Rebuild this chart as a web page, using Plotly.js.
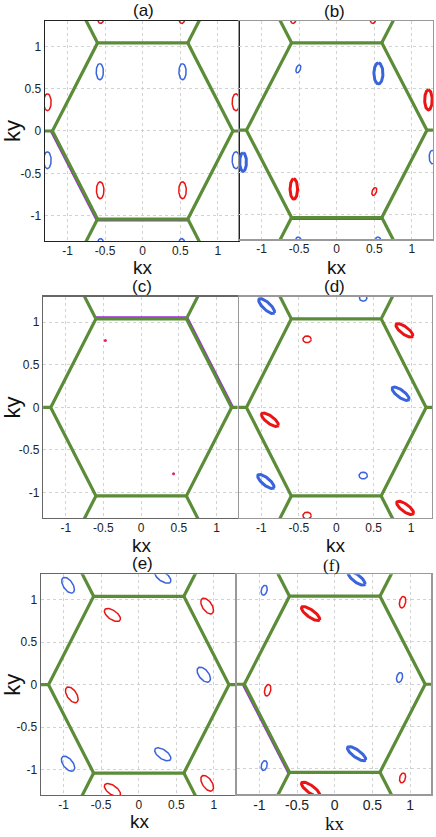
<!DOCTYPE html>
<html>
<head>
<meta charset="utf-8">
<script src="https://cdn.plot.ly/plotly-3.0.1.min.js"></script>
<style>body{margin:0;background:#fff}</style>
</head>
<body>
<div id="c1" style="width:436px;height:837px"></div>
<script>
var tickVals = [-1, -0.5, 0, 0.5, 1];
var tickText = ['-1', '-0.5', '0', '0.5', '1'];
var panelNames = ['(a)', '(b)', '(c)', '(d)', '(e)', '(f)'];

// corners of the first Brillouin zone
var zoneKx = [1.2, 0.6, -0.6, -1.2, -0.6, 0.6];
var zoneKy = [0, 1.04, 1.04, 0, -1.04, -1.04];

// pockets: kx, ky, semi axis a, semi axis b, tilt of a (deg), band, contours
var pocketsA = [
  [-0.57, 0.70, 0.095, 0.048, 90, 'b', 1], [0.53, 0.70, 0.095, 0.048, 90, 'b', 1],
  [-0.565, -0.70, 0.1, 0.05, 90, 'r', 1], [0.53, -0.70, 0.1, 0.05, 90, 'r', 1],
  [-1.267, 0.34, 0.1, 0.05, 90, 'r', 1], [1.24, 0.34, 0.1, 0.05, 90, 'r', 1],
  [-1.267, -0.345, 0.1, 0.05, 90, 'b', 1], [1.24, -0.345, 0.1, 0.05, 90, 'b', 1],
  [-0.56, 1.37, 0.1, 0.05, 90, 'r', 1], [0.52, 1.37, 0.1, 0.05, 90, 'r', 1],
  [-0.56, -1.37, 0.1, 0.05, 90, 'b', 1], [0.52, -1.37, 0.1, 0.05, 90, 'b', 1]
];
var pocketsB = [
  [-0.51, 0.73, 0.05, 0.028, 65, 'b', 1], [0.555, 0.675, 0.125, 0.06, 90, 'b', 2],
  [1.22, 0.36, 0.12, 0.05, 90, 'r', 2], [1.27, -0.32, 0.08, 0.04, 90, 'b', 1],
  [-0.57, -0.70, 0.12, 0.05, 90, 'r', 2], [0.50, -0.73, 0.05, 0.028, 65, 'r', 1],
  [-1.245, -0.38, 0.11, 0.045, 90, 'b', 2],
  [-0.58, 1.37, 0.1, 0.05, 90, 'r', 1], [0.48, 1.37, 0.1, 0.05, 90, 'r', 1],
  [-0.51, -1.37, 0.1, 0.05, 90, 'b', 1], [0.55, -1.37, 0.1, 0.05, 90, 'b', 1]
];
var dotsC = [[-0.475, 0.785], [0.43, -0.78]];
var pocketsD = [
  [-0.93, 1.19, 0.13, 0.045, -38, 'b', 2], [0.36, 1.285, 0.05, 0.037, 0, 'b', 1],
  [-0.39, 0.80, 0.055, 0.04, 0, 'r', 1], [0.91, 0.905, 0.13, 0.045, -32, 'r', 2],
  [0.86, 0.16, 0.13, 0.045, -32, 'b', 2], [-0.886, -0.145, 0.13, 0.045, -32, 'r', 2],
  [-0.94, -0.87, 0.13, 0.045, -35, 'b', 2], [0.36, -0.80, 0.055, 0.04, 0, 'b', 1],
  [0.92, -1.18, 0.13, 0.045, -32, 'r', 2], [-0.39, -1.27, 0.055, 0.04, 0, 'r', 1]
];
var pocketsE = [
  [-0.94, 1.17, 0.11, 0.06, -50, 'b', 1], [0.32, 1.27, 0.12, 0.055, -30, 'b', 1],
  [-0.35, 0.82, 0.12, 0.055, -30, 'r', 1], [0.91, 0.925, 0.11, 0.06, -50, 'r', 1],
  [0.865, 0.118, 0.11, 0.06, -45, 'b', 1], [-0.89, -0.12, 0.11, 0.06, -50, 'r', 1],
  [-0.94, -0.93, 0.11, 0.06, -45, 'b', 1], [0.32, -0.82, 0.12, 0.055, -30, 'b', 1],
  [0.91, -1.16, 0.11, 0.06, -50, 'r', 1], [-0.35, -1.24, 0.12, 0.055, -30, 'r', 1]
];
var pocketsF = [
  [-0.936, 1.11, 0.06, 0.038, 72, 'b', 1], [0.29, 1.25, 0.13, 0.045, -33, 'b', 2],
  [-0.32, 0.835, 0.14, 0.045, -32, 'r', 2], [0.90, 0.97, 0.07, 0.04, 75, 'r', 1],
  [0.86, 0.08, 0.06, 0.038, 72, 'b', 1], [-0.89, -0.07, 0.07, 0.04, 75, 'r', 1],
  [-0.936, -0.96, 0.06, 0.038, 72, 'b', 1], [0.29, -0.82, 0.14, 0.045, -32, 'b', 2],
  [0.90, -1.106, 0.06, 0.038, 72, 'r', 1], [-0.32, -1.24, 0.14, 0.045, -32, 'r', 2]
];
var pocketSets = [pocketsA, pocketsB, [], pocketsD, pocketsE, pocketsF];
// zone edges where the second (purple) band peeks out
var purpleEdges = [[3, 4], [4], [0, 1], [], [], [3]];

var green = '#5b8c37';
var bandColor = {r: '#ea1414', b: '#3a64dc'};
var sans = 'Liberation Sans, Arial, sans-serif';
var times = 'Liberation Serif, Times New Roman, serif';

var xDom = [[0.103, 0.548], [0.548, 0.993], [0.099, 0.545], [0.548, 0.991], [0.094, 0.539], [0.543, 0.989]];
var yDom = [[0.712, 0.975], [0.714, 0.975], [0.381, 0.6455], [0.381, 0.6455], [0.050, 0.314], [0.051, 0.314]];
var frameCol = ['#222', '#999', '#666', '#999', '#666', '#999'];
// panel letters and kx labels, paper coords
var titleXY = [[0.328, 0.988], [0.768, 0.986], [0.326, 0.6583], [0.768, 0.6583], [0.326, 0.3262], [0.761, 0.3240]];
var kxXY = [[0.328, 0.6810], [0.773, 0.6810], [0.326, 0.3485], [0.770, 0.3485], [0.321, 0.019], [0.768, 0.016]];

function ellipse(p) {
  var xs = [], ys = [];
  var t = p[4] * Math.PI / 180;
  for (var k = 0; k <= 72; k++) {
    var f = k / 72 * 2 * Math.PI;
    var u = p[2] * Math.cos(f), v = p[3] * Math.sin(f);
    xs.push(p[0] + u * Math.cos(t) - v * Math.sin(t));
    ys.push(p[1] + u * Math.sin(t) + v * Math.cos(t));
  }
  return [xs, ys];
}

var data = [];
var layout = {
  width: 436, height: 837,
  margin: {l: 0, r: 0, t: 0, b: 0},
  paper_bgcolor: '#fff', plot_bgcolor: '#fff',
  showlegend: false,
  font: {family: sans, color: '#111'},
  annotations: []
};

for (var i = 0; i < 6; i++) {
  var sx = i === 0 ? '' : String(i + 1);
  var xa = 'x' + sx, ya = 'y' + sx;
  var serif = i === 5;

  // purple band under the zone edges
  var px = [], py = [];
  for (var e = 0; e < purpleEdges[i].length; e++) {
    var a = purpleEdges[i][e], b = (a + 1) % 6;
    px.push(zoneKx[a] * 1.012, zoneKx[b] * 1.012, null);
    py.push(zoneKy[a] * 1.012, zoneKy[b] * 1.012, null);
  }
  if (px.length) {
    data.push({x: px, y: py, xaxis: xa, yaxis: ya, mode: 'lines', type: 'scatter',
      line: {color: '#9a2fd6', width: 3}, hoverinfo: 'skip'});
  }

  // zone boundary plus the edges leading to neighbouring zones
  var zx = [], zy = [];
  for (var v = 0; v <= 6; v++) { zx.push(zoneKx[v % 6]); zy.push(zoneKy[v % 6]); }
  zx.push(null); zy.push(null);
  for (v = 0; v < 6; v++) {
    zx.push(zoneKx[v], 2 * zoneKx[v], null);
    zy.push(zoneKy[v], 2 * zoneKy[v], null);
  }
  data.push({x: zx, y: zy, xaxis: xa, yaxis: ya, mode: 'lines', type: 'scatter',
    line: {color: green, width: 3.2}, hoverinfo: 'skip'});

  var ps = pocketSets[i];
  for (var k = 0; k < ps.length; k++) {
    var el = ellipse(ps[k]);
    data.push({x: el[0], y: el[1], xaxis: xa, yaxis: ya, mode: 'lines', type: 'scatter',
      line: {color: bandColor[ps[k][5]], width: ps[k][6] > 1 ? 3 : 1.5}, hoverinfo: 'skip'});
  }
  if (i === 2) {
    data.push({x: dotsC.map(function(d) { return d[0]; }), y: dotsC.map(function(d) { return d[1]; }),
      xaxis: xa, yaxis: ya, mode: 'markers', type: 'scatter',
      marker: {color: '#e0206a', size: 3}, hoverinfo: 'skip'});
  }

  var left = i % 2 === 0;
  layout['xaxis' + sx] = {
    domain: xDom[i], anchor: ya, range: [-1.3, 1.28],
    tickvals: tickVals, ticktext: tickText, ticks: '', ticklabelstandoff: -2,
    tickfont: {size: serif ? 14 : 12, color: '#222'},
    showgrid: true, gridcolor: '#d2d2d2', griddash: 'dot', gridwidth: 1,
    zeroline: false, showline: true, mirror: true, linecolor: frameCol[i], linewidth: 1.3
  };
  layout['yaxis' + sx] = {
    domain: yDom[i], anchor: xa, range: [-1.3, 1.3],
    tickvals: tickVals, ticktext: tickText, ticks: '',
    showticklabels: left, tickfont: {size: 12, color: '#222'},
    showgrid: true, gridcolor: '#d2d2d2', griddash: 'dot', gridwidth: 1,
    zeroline: false, showline: true, mirror: true, linecolor: frameCol[i], linewidth: 1.3,
    title: {text: left ? 'ky' : '', standoff: 6, font: {size: 22, color: '#111'}}
  };
  layout.annotations.push({
    text: panelNames[i], xref: 'paper', yref: 'paper', x: titleXY[i][0], y: titleXY[i][1],
    xanchor: 'center', yanchor: 'middle', showarrow: false, borderpad: 0,
    font: {size: 17, color: '#111', family: serif ? times : sans}
  });
  layout.annotations.push({
    text: 'kx', xref: 'paper', yref: 'paper', x: kxXY[i][0], y: kxXY[i][1],
    xanchor: 'center', yanchor: 'middle', showarrow: false, borderpad: 0,
    font: {size: 19, color: '#111', family: serif ? times : sans}
  });
}

Plotly.newPlot('c1', data, layout, {staticPlot: true});
</script>
</body>
</html>
